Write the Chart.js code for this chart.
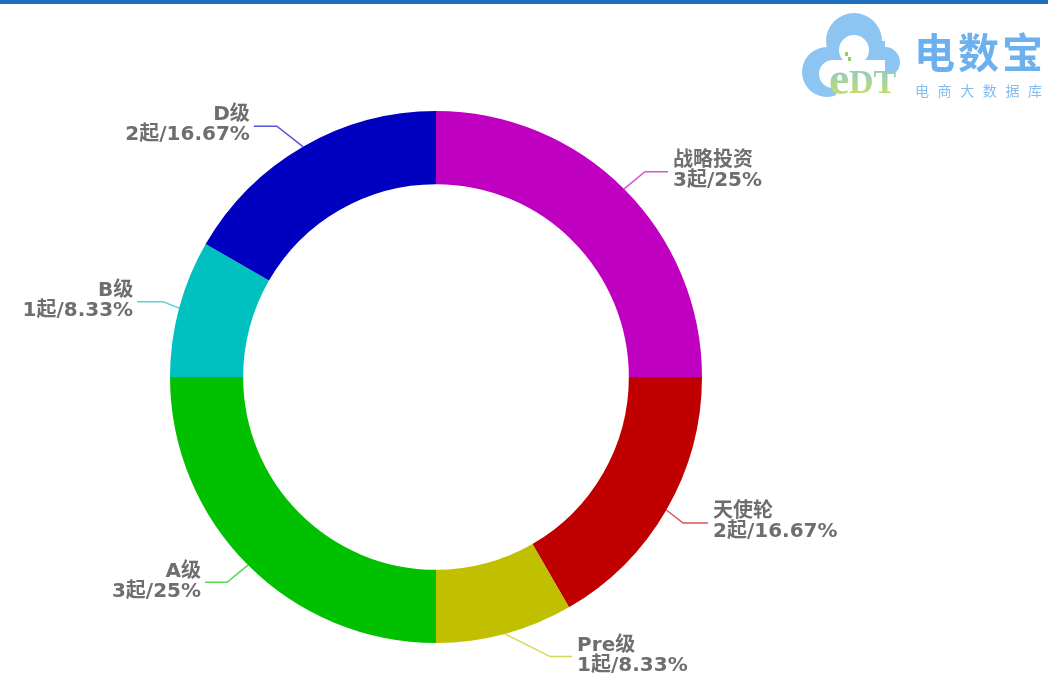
<!DOCTYPE html>
<html>
<head>
<meta charset="utf-8">
<script src="https://cdn.jsdelivr.net/npm/chart.js@4.4.0/dist/chart.umd.min.js"></script>
<style>
  html, body { margin: 0; padding: 0; background: #fff; }
  #wrap { position: relative; width: 1048px; height: 676px; overflow: hidden; }
  #topbar { position: absolute; left: 0; top: 0; width: 1048px; height: 4px; background: #1f6fbf; }
  #c { position: absolute; left: 0; top: 0; }
</style>
</head>
<body>
<div id="wrap">
  <canvas id="c" width="1048" height="676"></canvas>
  <div id="topbar"></div>
</div>
<script>
var labels = ['战略投资', '天使轮', 'Pre级', 'A级', 'B级', 'D级'];
var counts = [3, 2, 1, 3, 1, 2];
var percents = ['25%', '16.67%', '8.33%', '25%', '8.33%', '16.67%'];
var colors = ['#c000c0', '#c00000', '#c0c000', '#00c000', '#00c0c0', '#0000c0'];
var lineColors = ['#d655d6', '#d65555', '#d6d655', '#55d655', '#55d6d6', '#5555d6'];

// 引导线的拐点：[角度偏移(度), 半径增量]
var bend = [[0.5, 27], [0.6, 21], [-7.2, 36], [0.5, 27], [0.4, 17], [-2.4, 31]];
var hLen = [23, 25, 22, 22, 26, 23];

var labelPlugin = {
    id: 'pieLabels',
    afterDatasetsDraw: function (chart) {
        var ctx = chart.ctx;
        var arcs = chart.getDatasetMeta(0).data;
        ctx.save();
        ctx.font = 'bold 20px "DejaVu Sans", "Noto Sans CJK SC", sans-serif';
        ctx.textBaseline = 'middle';
        arcs.forEach(function (arc, i) {
            var mid = (arc.startAngle + arc.endAngle) / 2;
            var a1 = mid + bend[i][0] * Math.PI / 180;
            var r0 = arc.outerRadius;
            var r1 = arc.outerRadius + bend[i][1];
            var x0 = arc.x + Math.cos(mid) * r0, y0 = arc.y + Math.sin(mid) * r0;
            var x1 = arc.x + Math.cos(a1) * r1, y1 = arc.y + Math.sin(a1) * r1;
            var right = Math.cos(mid) >= 0;
            var x2 = x1 + (right ? hLen[i] : -hLen[i]);
            ctx.strokeStyle = lineColors[i];
            ctx.lineWidth = 1.5;
            ctx.beginPath();
            ctx.moveTo(x0, y0);
            ctx.lineTo(x1, y1);
            ctx.lineTo(x2, y1);
            ctx.stroke();
            ctx.fillStyle = '#6e6e6e';
            ctx.textAlign = right ? 'left' : 'right';
            var tx = x2 + (right ? 5 : -4);
            ctx.fillText(labels[i], tx, y1 - 11);
            ctx.fillText(counts[i] + '起/' + percents[i], tx, y1 + 9);
        });
        ctx.restore();
    }
};

// 右上角标志
function circles(ctx, list) {
    ctx.beginPath();
    list.forEach(function (c) {
        ctx.moveTo(c[0] + c[2], c[1]);
        ctx.arc(c[0], c[1], c[2], 0, Math.PI * 2);
    });
    ctx.fill();
}

var logoPlugin = {
    id: 'logo',
    afterDraw: function (chart) {
        var ctx = chart.ctx;
        ctx.save();
        // 云朵
        ctx.fillStyle = '#8cc5f2';
        circles(ctx, [[827, 72, 25], [854, 41, 28], [885, 62, 15]]);
        ctx.fillRect(827, 41, 58, 32);
        ctx.fillStyle = '#fff';
        circles(ctx, [[833, 74, 14], [854, 50, 15]]);
        ctx.fillRect(836, 60, 49, 50);
        ctx.fillRect(836, 74, 70, 40);
        // eDT
        var g = ctx.createLinearGradient(0, 58, 0, 96);
        g.addColorStop(0, '#7ec0ef');
        g.addColorStop(1, '#c2df66');
        ctx.fillStyle = g;
        ctx.textAlign = 'left';
        ctx.textBaseline = 'alphabetic';
        ctx.font = 'bold 46px "Liberation Serif", serif';
        ctx.fillText('e', 829, 94);
        ctx.font = 'bold 34px "Liberation Serif", serif';
        ctx.fillText('DT', 849, 93);
        ctx.fillStyle = '#9ccc66';
        ctx.fillRect(845, 52, 3, 4);
        ctx.fillRect(848, 57, 3, 4);
        // 文字
        ctx.fillStyle = '#6cb1ee';
        ctx.font = 'bold 41px "Noto Sans CJK SC", sans-serif';
        ctx.textBaseline = 'middle';
        ctx.letterSpacing = '3px';
        ctx.fillText('电数宝', 914, 52);
        ctx.letterSpacing = '0px';
        ctx.font = '14px "Noto Sans CJK SC", sans-serif';
        ctx.fillStyle = '#86bdee';
        var small = '电商大数据库';
        for (var k = 0; k < small.length; k++) {
            ctx.fillText(small[k], 915 + k * 22.6, 91);
        }
        ctx.restore();
    }
};

new Chart(document.getElementById('c').getContext('2d'), {
    type: 'doughnut',
    data: {
        labels: labels,
        datasets: [{
            data: counts,
            backgroundColor: colors,
            borderWidth: 0
        }]
    },
    options: {
        responsive: false,
        animation: false,
        cutout: '72.5%',
        layout: { padding: { left: 170, right: 346, top: 111, bottom: 33 } },
        plugins: {
            legend: { display: false },
            tooltip: { enabled: false }
        }
    },
    plugins: [labelPlugin, logoPlugin]
});
</script>
</body>
</html>
